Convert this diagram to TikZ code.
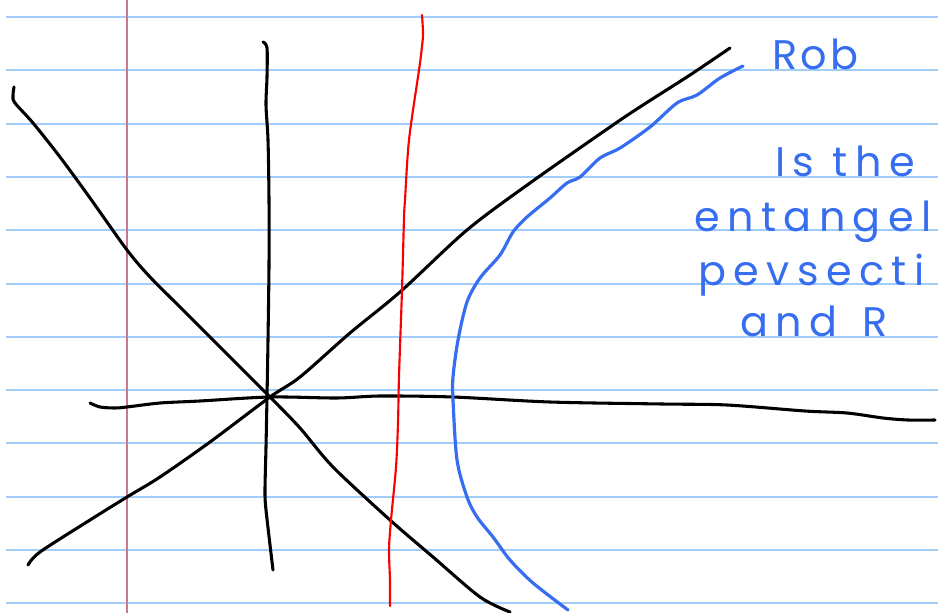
\documentclass[tikz,border=0pt]{standalone}
\usepackage{fontspec}
\newfontfamily\handfont[LetterSpace=18]{Poppins}
\newfontfamily\handfonttight[LetterSpace=8]{Poppins}
\usetikzlibrary{arrows.meta}

\definecolor{ruleblue}{RGB}{160,205,250}
\definecolor{marginred}{RGB}{200,120,145}
\definecolor{inkblue}{RGB}{55,110,240}
\definecolor{inkred}{RGB}{250,0,0}

\tikzset{
    ink/.style={line width=2.3pt, line cap=round, line join=round},
    note/.style={inkblue, font=\handfont\fontsize{31}{31}\selectfont, anchor=base west, inner sep=0pt},
}

\begin{document}
\begin{tikzpicture}[x=0.75pt, y=-0.75pt]
    \useasboundingbox (0, 0) rectangle (938, 613);
    \clip (0, 0) rectangle (938, 613);

    % folha pautada
    \foreach \k in {0,...,11}
        \draw[ruleblue, line width=1.5pt] (6, {17+53.3*\k}) -- (938, {17+53.3*\k});
    \draw[marginred, line width=1.5pt] (127, 0) -- (127, 613);

    % eixos
    \draw[ink, black] plot[smooth] coordinates {
        (90, 403) (100, 407) (115, 408) (127, 407) (160, 403) (200, 401) (270, 397)
        (337, 398) (380, 396) (453, 397) (550, 402) (662, 404) (727, 405)
        (805, 411) (847, 413) (883, 418) (908, 420) (935, 420)};
    \draw[ink, black] plot[smooth] coordinates {
        (263, 42) (267, 48) (267, 77) (266, 105) (268, 140) (269, 200)
        (269, 265) (268, 340) (267, 397) (266, 447) (265, 490) (266, 510) (273, 570)};

    % cone de luz
    \draw[ink, black] plot[smooth] coordinates {
        (14, 87) (13, 96) (15, 103) (33, 123) (60, 157) (90, 198) (127, 250)
        (150, 277) (180, 307) (213, 340) (270, 397) (300, 428) (333, 467)
        (390, 520) (433, 557) (480, 597) (510, 612)};
    \draw[ink, black] plot[smooth] coordinates {
        (28, 565) (40, 552) (90, 520) (127, 497) (160, 477) (210, 442) (270, 397)
        (300, 377) (350, 333) (400, 292) (467, 230) (530, 183) (613, 125)
        (643, 105) (690, 75) (730, 48)};

    % linha vermelha
    \draw[inkred, line width=1.6pt, line cap=round] plot[smooth] coordinates {
        (422, 15) (423, 35) (421, 55) (419, 70) (409, 140) (405, 200) (404, 218)
        (402, 290) (399, 376) (398, 423) (396, 467) (391, 520) (389, 550) (390, 580) (390, 606)};

    % hiperbole
    \draw[ink, inkblue, line width=2.4pt] plot[smooth] coordinates {
        (743, 66) (720, 78) (697, 95) (677, 103) (650, 127) (620, 148) (600, 158)
        (580, 177) (567, 183) (550, 198) (527, 217) (513, 232) (500, 255) (480, 278)
        (467, 302) (458, 340) (453, 377) (453, 400) (457, 460) (467, 497) (477, 517)
        (493, 537) (510, 560) (533, 583) (568, 610)};

    % anotacoes
    \node[note, font=\handfonttight\fontsize{31}{31}\selectfont] (rob) at (772, 70) {Rob};
    \node[note] (isthe) at (775, 176) {Is the};
    \node[note] (entangel) at (694, 231) {entangel};
    \node[note] (pevsecti) at (698, 285) {pevsecti};
    \node[note] (andr) at (740, 336) {and\hspace{0.6em}R};
\end{tikzpicture}
\end{document}
